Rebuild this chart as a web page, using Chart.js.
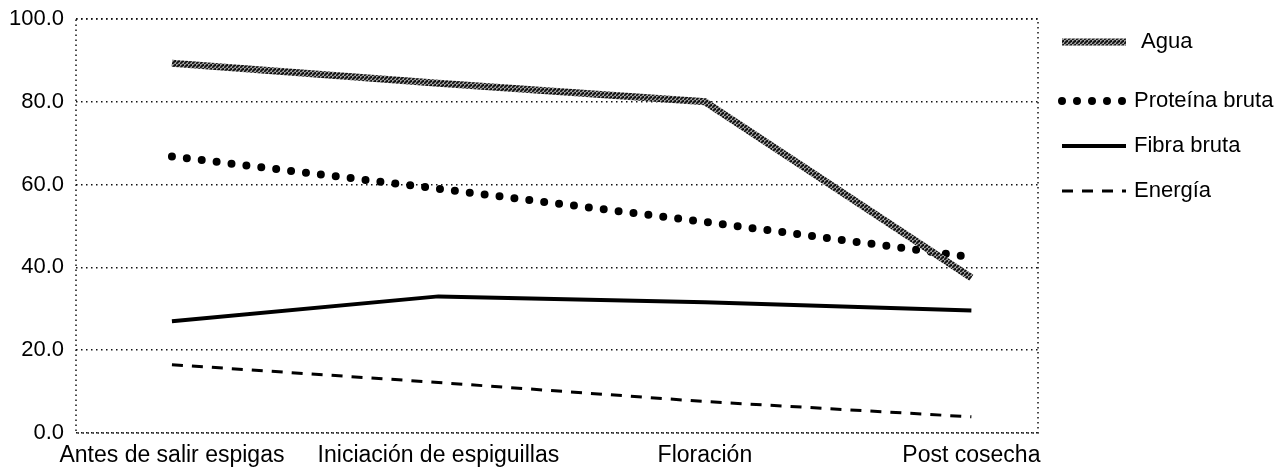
<!DOCTYPE html>
<html>
<head>
<meta charset="utf-8">
<script src="https://cdn.jsdelivr.net/npm/chart.js@4"></script>
<style>
  html, body { margin: 0; padding: 0; background: #fff; }
  #wrap { width: 1281px; height: 468px; }
</style>
</head>
<body>
<div id="wrap"><canvas id="myChart" width="1281" height="468"></canvas></div>
<script>
const categories = ["Antes de salir espigas", "Iniciación de espiguillas", "Floración", "Post cosecha"];
const seriesNames = ["Agua", "Proteína bruta", "Fibra bruta", "Energía"];
const agua = [89.3, 84.5, 80.0, 37.5];
const proteina = [66.8, 59.0, 51.0, 42.5];
const fibra = [27.0, 33.0, 31.6, 29.6];
const energia = [16.5, 12.2, 7.6, 3.9];
const yTicks = [0, 20, 40, 60, 80, 100];

const fontFamily = "'Liberation Sans Narrow', 'Arial Narrow', 'Liberation Sans', sans-serif";

function hatchPattern() {
  let c = document.createElement("canvas");
  c.width = 4;
  c.height = 4;
  let g = c.getContext("2d");
  g.fillStyle = "#9c9c9c";
  g.fillRect(0, 0, 4, 4);
  g.strokeStyle = "#111";
  g.lineWidth = 1.9;
  g.beginPath();
  g.moveTo(-1, 5);
  g.lineTo(5, -1);
  g.stroke();
  return g.createPattern(c, "repeat");
}

function toPoints(arr) {
  return arr.map((v, i) => ({ x: i, y: v }));
}

// dotted frame round the plot area
const framePlugin = {
  id: "frame",
  beforeDatasetsDraw(chart) {
    const { ctx, chartArea: a } = chart;
    ctx.save();
    ctx.strokeStyle = "#111";
    ctx.lineWidth = 1.5;
    ctx.setLineDash([1.5, 3.5]);
    ctx.strokeRect(a.left, a.top, a.right - a.left, a.bottom - a.top);
    ctx.restore();
  },
};

// legend on the right, drawn with the dataset line styles
const legendPlugin = {
  id: "sideLegend",
  afterDraw(chart) {
    const ctx = chart.ctx;
    const rows = [42, 101, 146, 191];
    ctx.save();
    chart.data.datasets.forEach((ds, i) => {
      const y = rows[i];
      ctx.beginPath();
      ctx.strokeStyle = ds.borderColor;
      ctx.lineWidth = ds.borderWidth;
      ctx.lineCap = ds.borderCapStyle || "butt";
      ctx.setLineDash(ds.borderDash || []);
      ctx.moveTo(1062, y);
      ctx.lineTo(1126, y);
      ctx.stroke();
      ctx.setLineDash([]);
      ctx.fillStyle = "#000";
      ctx.font = "22px " + fontFamily;
      ctx.textBaseline = "middle";
      ctx.fillText(ds.label, i == 0 ? 1141 : 1134, y);
    });
    ctx.restore();
  },
};

let ctx = document.getElementById("myChart").getContext("2d");

let myChart = new Chart(ctx, {
  type: "line",
  data: {
    datasets: [
      {
        label: seriesNames[0],
        data: toPoints(agua),
        borderColor: hatchPattern(),
        borderWidth: 7,
      },
      {
        label: seriesNames[1],
        data: toPoints(proteina),
        borderColor: "#000",
        borderWidth: 8,
        borderDash: [0, 15],
        borderCapStyle: "round",
      },
      {
        label: seriesNames[2],
        data: toPoints(fibra),
        borderColor: "#000",
        borderWidth: 4,
      },
      {
        label: seriesNames[3],
        data: toPoints(energia),
        borderColor: "#000",
        borderWidth: 3,
        borderDash: [11, 9],
      },
    ],
  },
  options: {
    responsive: false,
    animation: false,
    layout: { padding: { left: 0, right: 243, top: 19, bottom: 0 } },
    elements: {
      point: { radius: 0 },
      line: { tension: 0, fill: false },
    },
    plugins: {
      legend: { display: false },
      tooltip: { enabled: false },
    },
    scales: {
      x: {
        type: "linear",
        min: -0.36,
        max: 3.25,
        afterBuildTicks: (scale) => {
          scale.ticks = categories.map((c, i) => ({ value: i }));
        },
        afterFit: (scale) => {
          scale.height = 35;
          scale.paddingLeft = 0;
          scale.paddingRight = 0;
        },
        grid: { display: false },
        border: { display: false },
        ticks: {
          autoSkip: false,
          maxRotation: 0,
          padding: 1,
          color: "#000",
          font: { family: fontFamily, size: 23 },
          callback: (value) => categories[value],
        },
      },
      y: {
        min: 0,
        max: 100,
        afterBuildTicks: (scale) => {
          scale.ticks = yTicks.map((v) => ({ value: v }));
        },
        afterFit: (scale) => {
          scale.width = 76;
          scale.paddingTop = 0;
          scale.paddingBottom = 0;
        },
        grid: { color: "#111", lineWidth: 1.5, drawTicks: false },
        border: { display: false, dash: [1.5, 3.5] },
        ticks: {
          padding: 12,
          color: "#000",
          font: { family: fontFamily, size: 22 },
          callback: (value) => value.toFixed(1),
        },
      },
    },
  },
  plugins: [framePlugin, legendPlugin],
});
</script>
</body>
</html>
